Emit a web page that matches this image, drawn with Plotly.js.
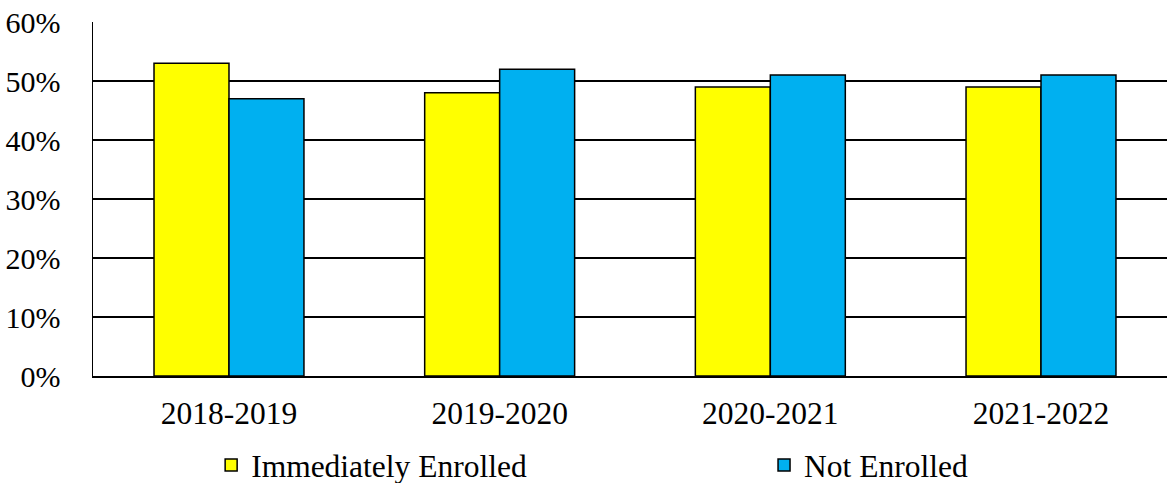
<!DOCTYPE html>
<html>
<head>
<meta charset="utf-8">
<script src="https://cdn.plot.ly/plotly-3.0.1.min.js"></script>
<style>html,body{margin:0;padding:0;background:#fff;}#chart{width:1167px;height:483px;}</style>
</head>
<body>
<div id="chart"></div>
<script>
const categories = ["2018-2019", "2019-2020", "2020-2021", "2021-2022"];
const seriesNames = ["Immediately Enrolled", "Not Enrolled"];
const immediatelyEnrolled = [0.53, 0.48, 0.49, 0.49];
const notEnrolled = [0.47, 0.52, 0.51, 0.51];
const colors = ["#FFFF00", "#00B0F0"];

const font = {family: "Times New Roman", size: 31.5, color: "#000"};
const yFont = {family: "Times New Roman", size: 30, color: "#000"};

const legendNames = ["legend", "legend2"];
const traces = [immediatelyEnrolled, notEnrolled].map((vals, i) => ({
  type: "bar",
  name: seriesNames[i],
  x: categories,
  y: vals,
  legend: legendNames[i],
  marker: {color: colors[i], line: {color: "#000", width: 1.5}},
  hoverinfo: "x+y"
}));

function legendAt(xPaper) {
  return {
    orientation: "h", x: xPaper, xanchor: "left",
    yref: "container", y: 0.037, yanchor: "middle",
    font: font, itemwidth: 30, bgcolor: "rgba(0,0,0,0)"
  };
}

const layout = {
  width: 1167, height: 483,
  margin: {l: 93, r: 0, t: 22, b: 107},
  paper_bgcolor: "#fff", plot_bgcolor: "#fff",
  font: font,
  barmode: "group",
  bargap: 0.446,
  bargroupgap: 0,
  showlegend: true,
  legend: legendAt(0.11),
  legend2: legendAt(0.6248),
  xaxis: {
    range: [-0.5024, 3.4655],
    showgrid: false, showline: true, linecolor: "#000", linewidth: 1.5,
    ticks: "", tickfont: font, ticklabelstandoff: 9, fixedrange: true
  },
  yaxis: {
    range: [0, 0.6], dtick: 0.1, tickformat: ".0%",
    showgrid: true, gridcolor: "#000", gridwidth: 1.5,
    showline: true, linecolor: "#000", linewidth: 1.5,
    zeroline: false, ticks: "", tickfont: yFont, ticklabelstandoff: 25, fixedrange: true
  }
};

Plotly.newPlot("chart", traces, layout, {displayModeBar: false, staticPlot: true});
</script>
</body>
</html>
